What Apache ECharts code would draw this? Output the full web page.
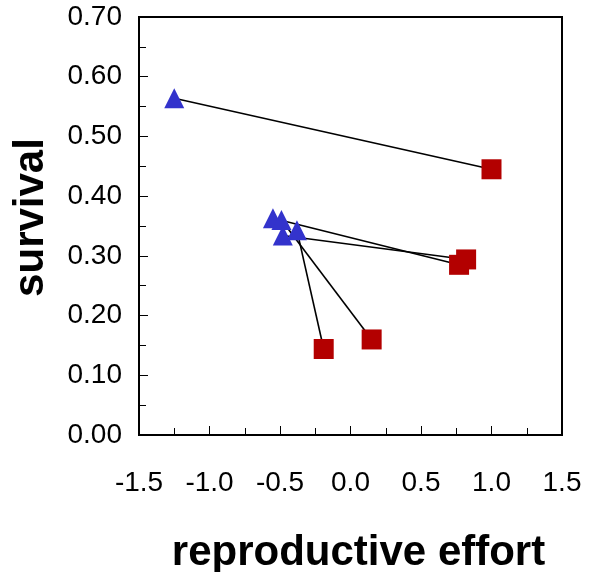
<!DOCTYPE html>
<html>
<head>
<meta charset="utf-8">
<script src="https://cdn.jsdelivr.net/npm/echarts@6/dist/echarts.min.js"></script>
<style>html,body{margin:0;padding:0;background:#fff;}#c{width:589px;height:572px;}</style>
</head>
<body>
<div id="c"></div>
<script>
// Start points (triangles) and end points (squares); pairs share the same index
const triX = [-1.25, -0.55, -0.49, -0.48, -0.38];
const triY = [0.564, 0.363, 0.360, 0.334, 0.343];
const sqX  = [1.00, 0.77, 0.15, 0.82, -0.19];
const sqY  = [0.445, 0.285, 0.160, 0.294, 0.144];
const xTicks = [-1.5, -1.0, -0.5, 0.0, 0.5, 1.0, 1.5];
const yTicks = [0.0, 0.1, 0.2, 0.3, 0.4, 0.5, 0.6, 0.7];
const xName = 'reproductive effort';
const yName = 'survival';

const chart = echarts.init(document.getElementById('c'), null, {renderer: 'canvas'});
const font = 'Liberation Sans, Arial, sans-serif';

const pairSeries = triX.map((x, i) => ({
  type: 'line',
  data: [[x, triY[i]], [sqX[i], sqY[i]]],
  symbol: 'none',
  lineStyle: {color: '#000', width: 1.6},
  z: 2,
  silent: true
}));

chart.setOption({
  animation: false,
  backgroundColor: '#fff',
  grid: {left: 139, right: 27, top: 17, bottom: 137, containLabel: false, outerBoundsMode: 'none',
    show: true, borderColor: '#000', borderWidth: 2, backgroundColor: 'transparent'},
  xAxis: {
    type: 'value', min: xTicks[0], max: xTicks[xTicks.length - 1], interval: 0.5,
    axisLine: {show: true, onZero: false, lineStyle: {color: '#000', width: 2}},
    axisTick: {show: true, inside: true, length: 9, lineStyle: {color: '#000', width: 1}},
    minorTick: {show: true, splitNumber: 2, length: 7, lineStyle: {color: '#000', width: 1}},
    splitLine: {show: false},
    axisLabel: {margin: 34, fontSize: 28, color: '#000', fontFamily: font,
      formatter: v => (Math.abs(v) < 1e-9 ? 0 : v).toFixed(1)},
    name: xName, nameLocation: 'middle', nameGap: 97,
    nameTextStyle: {fontSize: 42, fontWeight: 'bold', color: '#000', fontFamily: font, padding: [0, 0, 0, 16]}
  },
  yAxis: {
    type: 'value', min: yTicks[0], max: yTicks[yTicks.length - 1], interval: 0.1,
    axisLine: {show: true, onZero: false, lineStyle: {color: '#000', width: 2}},
    axisTick: {show: true, inside: true, length: 9, lineStyle: {color: '#000', width: 1}},
    minorTick: {show: true, splitNumber: 2, length: 7, lineStyle: {color: '#000', width: 1}},
    splitLine: {show: false},
    axisLabel: {margin: 17, fontSize: 28, color: '#000', fontFamily: font,
      formatter: v => v.toFixed(2)},
    name: yName, nameLocation: 'middle', nameGap: 87, nameRotate: 90,
    nameTextStyle: {fontSize: 42, fontWeight: 'bold', color: '#000', fontFamily: font, padding: [0, 0, 0, 17]}
  },
  series: pairSeries.concat([
    {
      type: 'scatter',
      data: triX.map((x, i) => [x, triY[i]]),
      symbol: 'triangle', symbolSize: 20,
      itemStyle: {color: '#3333cc', opacity: 1},
      z: 3
    },
    {
      type: 'scatter',
      data: sqX.map((x, i) => [x, sqY[i]]),
      symbol: 'rect', symbolSize: 20,
      itemStyle: {color: '#b30000', opacity: 1},
      z: 4
    }
  ])
});
</script>
</body>
</html>
